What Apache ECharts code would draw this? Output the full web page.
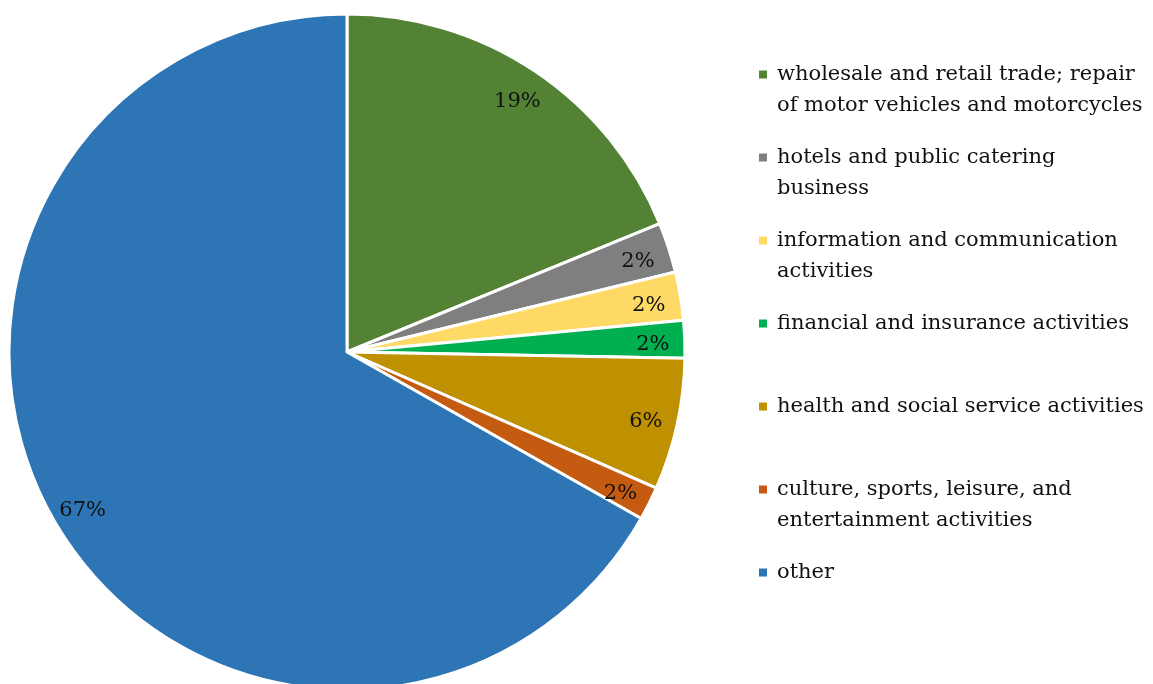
<!DOCTYPE html>
<html>
<head>
<meta charset="utf-8">
<script src="https://cdn.jsdelivr.net/npm/echarts@6/dist/echarts.min.js"></script>
<style>
  html, body { margin: 0; padding: 0; background: #fff; }
  #chart { width: 1153px; height: 684px; }
</style>
</head>
<body>
<div id="chart"></div>
<script>
const sectors = [
  'wholesale and retail trade; repair\nof motor vehicles and motorcycles',
  'hotels and public catering\nbusiness',
  'information and communication\nactivities',
  'financial and insurance activities',
  'health and social service activities',
  'culture, sports, leisure, and\nentertainment activities',
  'other'
];
const shares = [18.8, 2.4, 2.3, 1.8, 6.3, 1.6, 66.8];
const colors = ['#548235', '#7f7f7f', '#ffd966', '#00b050', '#bf9000', '#c55a11', '#2e75b6'];

const chart = echarts.init(document.getElementById('chart'));
const font = '"DejaVu Serif", "Liberation Serif", serif';
const lh = 31;

const pieData = sectors.map((name, i) => ({
  name: name,
  value: shares[i],
  itemStyle: { color: colors[i] }
}));

chart.setOption({
  animation: false,
  legend: {
    orient: 'vertical',
    left: 759,
    top: 28,
    padding: 0,
    itemGap: -10,
    itemWidth: 8,
    itemHeight: 8,
    icon: 'rect',
    selectedMode: false,
    itemStyle: { borderWidth: 0 },
    textStyle: { fontFamily: font, fontSize: 21, color: '#111', lineHeight: lh, padding: [0, 0, 0, 5] },
    // blank first line so the icon sits beside the first text line
    formatter: name => name.indexOf('\n') >= 0 ? ' \n' + name : ' \n' + name + '\n ',
    data: sectors
  },
  series: [
    {
      type: 'pie',
      center: [347, 352],
      radius: [0, 338],
      startAngle: 90,
      clockwise: true,
      label: { show: false },
      labelLine: { show: false },
      itemStyle: { borderColor: '#fff', borderWidth: 3 },
      data: pieData
    },
    {
      // transparent ring only used to place the percent labels near the rim
      type: 'pie',
      silent: true,
      center: [347, 352],
      radius: [268, 338],
      startAngle: 90,
      clockwise: true,
      itemStyle: { color: 'transparent', borderWidth: 0 },
      labelLine: { show: false },
      label: {
        show: true,
        position: 'inside',
        offset: [0, 4],
        fontFamily: font,
        fontSize: 21,
        color: '#111',
        formatter: p => Math.round(p.percent) + '%'
      },
      data: sectors.map((name, i) => ({ name: name, value: shares[i] }))
    }
  ]
});

window.addEventListener('resize', function () {
  chart.resize();
});
</script>
</body>
</html>
